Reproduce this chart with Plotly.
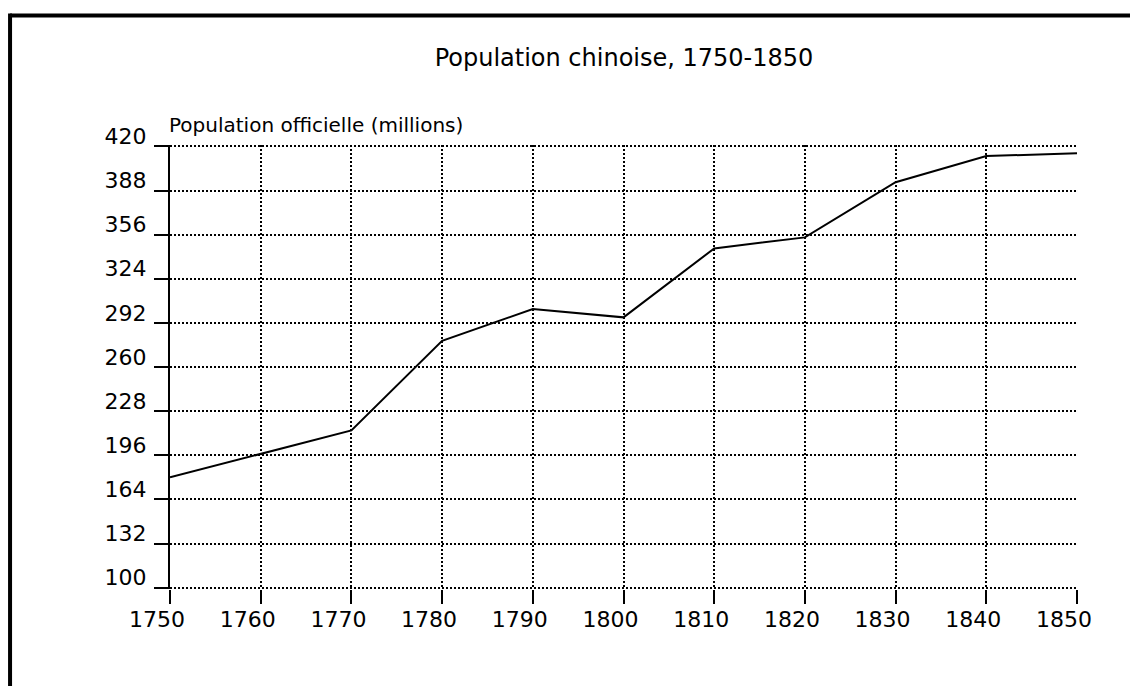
import plotly.graph_objects as go

years = [1750, 1760, 1770, 1780, 1790, 1800, 1810, 1820, 1830, 1840, 1850]
population = [180, 197, 214, 279, 302, 296, 346, 354, 394, 413, 415]
y_ticks = [100, 132, 164, 196, 228, 260, 292, 324, 356, 388, 420]
x_ticks = [1750, 1760, 1770, 1780, 1790, 1800, 1810, 1820, 1830, 1840, 1850]

title_text = "Population chinoise, 1750-1850"
y_label = "Population officielle (millions)"

W, H = 1138, 686
OFF = 8  # page body margin offset

# target screen pixels for axis ends
X0, X1 = 170.0, 1077.3      # 1750, 1850
Y_TOP, Y_BOT = 146.7, 587.3  # 420, 100
y_pad = 1.0                  # small range padding so edge gridlines are drawn
k = (Y_BOT - Y_TOP) / (y_ticks[-1] - y_ticks[0])

L = X0 - OFF
R = W - (X1 - OFF)
T = Y_TOP - y_pad * k - OFF
B = H - (Y_BOT + y_pad * k - OFF)
pw, ph = W - L - R, H - T - B

def px_x(px):
    return (px - OFF - L) / pw

def px_y(py):
    return (H - B - (py - OFF)) / ph

font_family = "DejaVu Sans"

fig = go.Figure()
fig.add_trace(go.Scatter(
    x=years, y=population, mode="lines",
    line=dict(color="black", width=2),
    showlegend=False, hoverinfo="skip",
))

fig.update_layout(
    width=W, height=H,
    margin=dict(l=L, r=R, t=T, b=B, pad=0),
    paper_bgcolor="white", plot_bgcolor="white",
    font=dict(family=font_family, color="black", size=21),
    title=dict(text=title_text, x=(624 - OFF) / W, xref="container", xanchor="center",
               y=1 - (58 - OFF) / H, yref="container", yanchor="middle",
               font=dict(size=24, family=font_family, color="black")),
)

fig.update_xaxes(
    range=[x_ticks[0], x_ticks[-1]], tickvals=x_ticks, ticktext=[str(v) for v in x_ticks],
    showgrid=True, gridcolor="black", gridwidth=2, griddash="2px,2px",
    ticks="outside", ticklen=14, tickwidth=2, tickcolor="black",
    showline=False, zeroline=False,
    tickfont=dict(size=22, family=font_family, color="black"),
    ticklabelshift=-13, ticklabelstandoff=-3,
)
fig.update_yaxes(
    range=[y_ticks[0] - y_pad, y_ticks[-1] + y_pad], tickvals=y_ticks,
    ticktext=[str(v) for v in y_ticks],
    showgrid=True, gridcolor="black", gridwidth=2, griddash="2px,2px",
    ticks="outside", ticklen=14, tickwidth=2, tickcolor="black",
    showline=True, linecolor="black", linewidth=2, zeroline=False,
    tickfont=dict(size=22, family=font_family, color="black"),
    ticklabelshift=-10, ticklabelstandoff=3,
)

fig.add_annotation(
    text=y_label, xref="paper", yref="paper",
    x=px_x(167), y=px_y(125), xanchor="left", yanchor="middle",
    showarrow=False, font=dict(size=20, family=font_family, color="black"),
)

# frame borders (top and left)
fig.add_shape(type="line", xref="paper", yref="paper",
              x0=px_x(10), x1=px_x(1150), y0=px_y(16), y1=px_y(16),
              line=dict(color="black", width=4))
fig.add_shape(type="line", xref="paper", yref="paper",
              x0=px_x(10), x1=px_x(10), y0=px_y(14), y1=px_y(700),
              line=dict(color="black", width=4))

fig.write_html("out.html")
